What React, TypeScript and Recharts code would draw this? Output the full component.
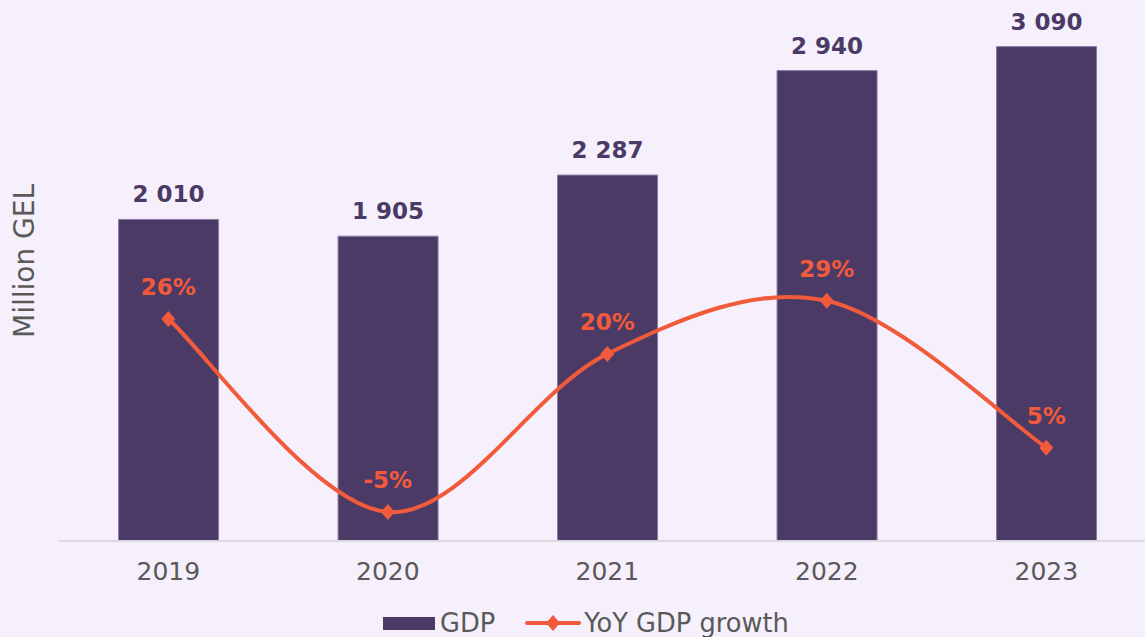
import { ComposedChart, Bar, Line, XAxis, YAxis, Legend, LabelList } from 'recharts';

const years = ['2019', '2020', '2021', '2022', '2023'];
const gdp = [2010, 1905, 2287, 2940, 3090];
const growth = [25.7, -5.2, 20.1, 28.6, 5.1];

const data = years.map((year, i) => ({ year, gdp: gdp[i], growth: growth[i] }));

const PURPLE = '#4b3a66';
const ORANGE = '#f15a3a';
const GREY = '#595959';

// smooth line through every point (catmull-rom, like the spreadsheet smoothing)
const smoothCurve = (context: any) => {
  let pts: number[][] = [];
  return {
    areaStart() {},
    areaEnd() {},
    lineStart() {
      pts = [];
    },
    point(x: number, y: number) {
      pts.push([+x, +y]);
    },
    lineEnd() {
      if (!pts.length) return;
      context.moveTo(pts[0][0], pts[0][1]);
      for (let i = 0; i < pts.length - 1; i++) {
        const p0 = pts[i - 1] || pts[i];
        const p1 = pts[i];
        const p2 = pts[i + 1];
        const p3 = pts[i + 2] || p2;
        context.bezierCurveTo(
          p1[0] + (p2[0] - p0[0]) / 6,
          p1[1] + (p2[1] - p0[1]) / 6,
          p2[0] - (p3[0] - p1[0]) / 6,
          p2[1] - (p3[1] - p1[1]) / 6,
          p2[0],
          p2[1]
        );
      }
    },
  };
};

const Diamond = (props: any) => {
  const { cx, cy } = props;
  if (cx == null || cy == null) return <g />;
  return (
    <polygon
      points={`${cx},${cy - 8} ${cx + 7},${cy} ${cx},${cy + 8} ${cx - 7},${cy}`}
      fill={ORANGE}
    />
  );
};

const renderYLabel = (props: any) => {
  const vb = props.viewBox || { x: 0, y: 0, width: 58, height: 528 };
  const x = vb.x + 24;
  const y = vb.y + vb.height / 2 - 16;
  return (
    <text
      x={x}
      y={y}
      transform={`rotate(-90, ${x}, ${y})`}
      textAnchor="middle"
      dominantBaseline="central"
      fill={GREY}
      fontSize={28}
    >
      Million GEL
    </text>
  );
};

const renderLegend = () => (
  <div
    style={{
      display: 'flex',
      alignItems: 'center',
      height: 28,
      lineHeight: '28px',
      paddingLeft: 383,
      fontSize: 25.7,
      color: GREY,
    }}
  >
    <span style={{ display: 'inline-block', width: 52, height: 13, background: PURPLE, marginRight: 5 }} />
    <span>GDP</span>
    <svg width={56} height={20} style={{ marginLeft: 30, marginRight: 3 }}>
      <line x1={2} y1={10} x2={54} y2={10} stroke={ORANGE} strokeWidth={4} strokeLinecap="round" />
      <polygon points="28,2 35,10 28,18 21,10" fill={ORANGE} />
    </svg>
    <span>YoY GDP growth</span>
  </div>
);

const App = () => {
  return (
    <div
      style={{
        position: 'absolute',
        left: 0,
        top: 0,
        width: 1145,
        height: 637,
        overflow: 'hidden',
        background: '#f5f0fb',
        fontFamily: '"DejaVu Sans", sans-serif',
      }}
    >
      <ComposedChart
        width={1160}
        height={637}
        data={data}
        margin={{ top: 13, right: 3.95, left: 0, bottom: 0 }}
      >
        <XAxis
          dataKey="year"
          axisLine={{ stroke: '#dcd8e0', strokeWidth: 2 }}
          tickLine={false}
          tickSize={0}
          tickMargin={21}
          height={68}
          interval={0}
          tick={{ fill: GREY, fontSize: 25 }}
        />
        <YAxis
          yAxisId="gdp"
          width={58.55}
          domain={[0, 3300]}
          tick={false}
          axisLine={false}
          tickLine={false}
          label={renderYLabel}
        />
        <YAxis yAxisId="pct" orientation="right" hide domain={[-9.84, 74.64]} />
        <Legend
          verticalAlign="bottom"
          content={renderLegend}
          wrapperStyle={{ left: 0, bottom: 0, width: 1145, height: 28 }}
        />
        <Bar
          yAxisId="gdp"
          dataKey="gdp"
          name="GDP"
          fill={PURPLE}
          stroke="#8a7ca6"
          strokeWidth={1}
          barSize={100}
          isAnimationActive={false}
        >
          <LabelList
            dataKey="gdp"
            position="top"
            offset={17}
            fill={PURPLE}
            fontSize={23}
            fontWeight="bold"
            formatter={(v: any) => String(v).replace(/\B(?=(\d{3})+(?!\d))/g, ' ')}
          />
        </Bar>
        <Line
          yAxisId="pct"
          dataKey="growth"
          name="YoY GDP growth"
          type={smoothCurve as any}
          stroke={ORANGE}
          strokeWidth={4}
          dot={Diamond}
          activeDot={false}
          isAnimationActive={false}
        >
          <LabelList
            dataKey="growth"
            position="top"
            offset={24}
            fill={ORANGE}
            fontSize={23}
            fontWeight="bold"
            formatter={(v: any) => `${Math.round(Number(v))}%`}
          />
        </Line>
      </ComposedChart>
    </div>
  );
};

export default App;
